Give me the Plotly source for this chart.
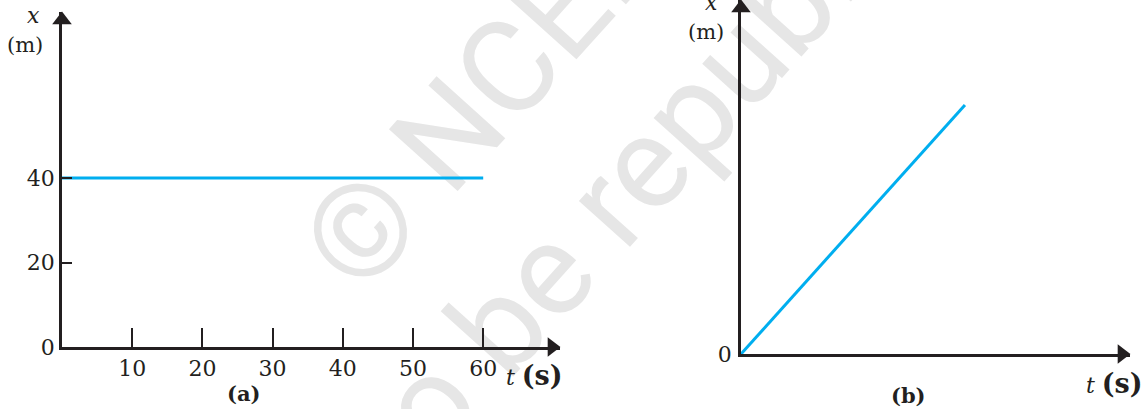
import plotly.graph_objects as go

# panel (a): constant position
t_a = [0, 60]
x_a = [40, 40]
t_ticks_a = [10, 20, 30, 40, 50, 60]
x_ticks_a = [0, 20, 40]

# panel (b): uniform motion from the origin (no scale given)
t_b = [0, 10]
x_b = [0, 10]

W, H = 1142, 409
INK = "#231f20"
BLUE = "#00aeef"
SERIF = "DejaVu Serif"


def px(x):
    return x / W


def py(y):
    return 1 - y / H


fig = go.Figure()

fig.add_trace(go.Scatter(x=t_a, y=x_a, mode="lines", line=dict(color=BLUE, width=3),
                         xaxis="x", yaxis="y", hoverinfo="skip"))
fig.add_trace(go.Scatter(x=t_b, y=x_b, mode="lines", line=dict(color=BLUE, width=3),
                         xaxis="x2", yaxis="y2", hoverinfo="skip"))

# axis ranges (left: 7.02 px per s, 4.225 px per m; right: arbitrary)
xr_a = [0, 70.94]
yr_a = [0, 79.3]
xr_b = [0, 17.37]
yr_b = [0, 14.22]

# arrow heads at the ends of the axes
arrow = dict(color=INK, size=17, line=dict(width=0))
fig.add_trace(go.Scatter(x=[xr_a[1] - 1.15], y=[0], mode="markers", cliponaxis=False,
                         marker=dict(symbol="triangle-right", **arrow), xaxis="x", yaxis="y"))
fig.add_trace(go.Scatter(x=[0], y=[yr_a[1] - 1.9], mode="markers", cliponaxis=False,
                         marker=dict(symbol="triangle-up", **arrow), xaxis="x", yaxis="y"))
fig.add_trace(go.Scatter(x=[xr_b[1] - 0.36], y=[0], mode="markers", cliponaxis=False,
                         marker=dict(symbol="triangle-right", **arrow), xaxis="x2", yaxis="y2"))
fig.add_trace(go.Scatter(x=[0], y=[yr_b[1] - 0.32], mode="markers", cliponaxis=False,
                         marker=dict(symbol="triangle-up", **arrow), xaxis="x2", yaxis="y2"))

axis_common = dict(showline=True, linecolor=INK, linewidth=2.5, showgrid=False, zeroline=False,
                   automargin=False, tickfont=dict(family=SERIF, size=22, color=INK),
                   fixedrange=True)

fig.update_layout(
    width=W, height=H,
    margin=dict(l=0, r=0, t=0, b=0, autoexpand=False),
    paper_bgcolor="white", plot_bgcolor="rgba(0,0,0,0)",
    showlegend=False,
    xaxis=dict(domain=[px(62), px(560)], range=xr_a, anchor="y",
               tickvals=t_ticks_a, ticks="inside", ticklen=19, tickwidth=2, tickcolor=INK,
               ticklabelstandoff=0, **axis_common),
    yaxis=dict(domain=[py(347), py(12)], range=yr_a, anchor="x",
               tickvals=x_ticks_a, ticks="inside", ticklen=10, tickwidth=2, tickcolor=INK,
               ticklabelstandoff=0, **axis_common),
    xaxis2=dict(domain=[px(741), px(1130)], range=xr_b, anchor="y2",
                showticklabels=False, ticks="", **axis_common),
    yaxis2=dict(domain=[py(354), py(0)], range=yr_b, anchor="x2",
                tickvals=[0], ticks="", ticklabelstandoff=2, **axis_common),
)

S_BIG = "<b><span style='font-size:27px'>(s)</span></b>"
labels = [
    (33, 15, "<i>x</i>", 22),
    (25, 45, "(m)", 21),
    (534, 375, "<i>t</i> " + S_BIG, 22),
    (243, 393, "<b>(a)</b>", 21),
    (711, 3, "<i>x</i>", 22),
    (706, 32, "(m)", 21),
    (1114, 383, "<i>t</i> " + S_BIG, 22),
    (908, 395, "<b>(b)</b>", 21),
]
for x, y, text, size in labels:
    fig.add_annotation(x=px(x), y=py(y), xref="paper", yref="paper", text=text, showarrow=False,
                       xanchor="center", yanchor="middle",
                       font=dict(family=SERIF, size=size, color=INK))

# faint watermark behind the plot lines
wm_font = dict(family="Roboto", size=130, color="#e6e6e6", weight=400)
for (cx, cy), text in [((501, 63), "© NCERT"), ((628, 169), "not to be republished")]:
    fig.add_shape(type="line", xref="paper", yref="paper", layer="below",
                  x0=px(cx - 1), y0=py(cy), x1=px(cx + 1), y1=py(cy),
                  line=dict(width=0, color="rgba(0,0,0,0)"),
                  label=dict(text=text, textangle=-48, textposition="middle",
                             xanchor="center", yanchor="middle", font=wm_font))

# the page is shown in a window exactly the figure's size, so drop the body margin
fig.write_html("out.html", config={"displayModeBar": False},
               post_script="document.body.style.margin = '0';")
